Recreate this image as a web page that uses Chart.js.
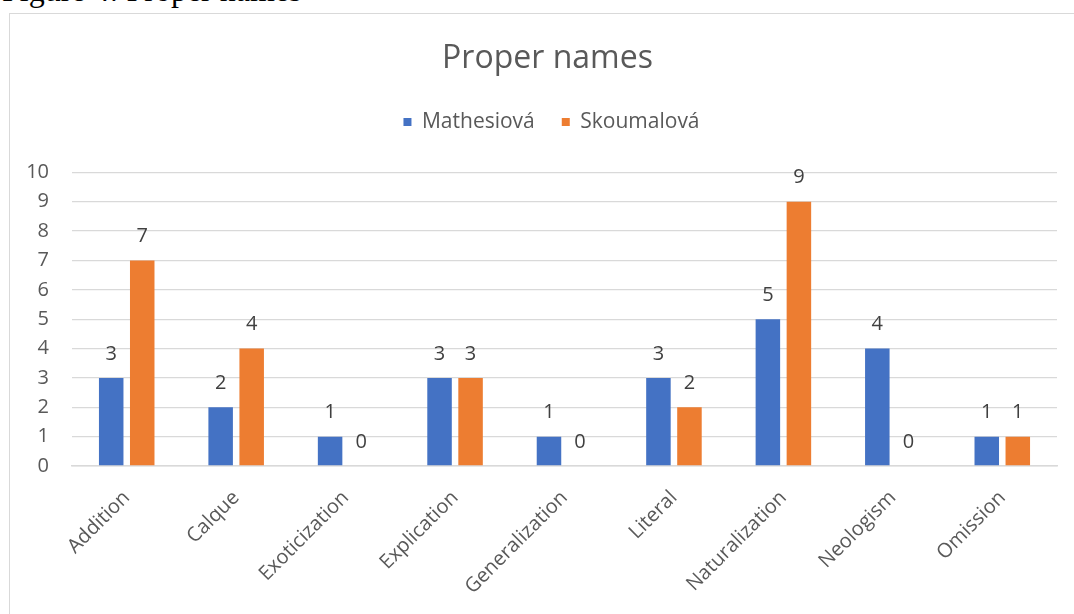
<!DOCTYPE html>
<html>
<head>
<meta charset="utf-8">
<script src="https://cdn.jsdelivr.net/npm/chart.js@4"></script>
<style>
  html, body { margin: 0; padding: 0; background: #ffffff; overflow: hidden; }
  #wrap { position: relative; width: 1074px; height: 614px; overflow: hidden; }
  #caption { position: absolute; left: 2px; top: -26px; font-family: "Liberation Serif", "Times New Roman", serif; font-size: 32px; line-height: 1; color: #000; white-space: nowrap; }
  #frame { position: absolute; left: 9px; top: 13px; width: 2000px; height: 2000px; border-left: 1px solid #d9d9d9; border-top: 1px solid #d9d9d9; }
  #c { position: absolute; left: 0; top: 0; }
</style>
</head>
<body>
<div id="wrap">
  <div id="caption">Figure 4: Proper names</div>
  <div id="frame"></div>
  <canvas id="c" width="1074" height="614"></canvas>
</div>
<script>
const categories = ["Addition", "Calque", "Exoticization", "Explication", "Generalization", "Literal", "Naturalization", "Neologism", "Omission"];
const mathesiova = [3, 2, 1, 3, 1, 3, 5, 4, 1];
const skoumalova = [7, 4, 0, 3, 0, 2, 9, 0, 1];
const yTicks = [0, 1, 2, 3, 4, 5, 6, 7, 8, 9, 10];

const FONT = '"Open Sans", "Noto Sans", sans-serif';

const valueLabels = {
  id: 'valueLabels',
  afterDatasetsDraw(chart) {
    const ctx = chart.ctx;
    ctx.save();
    ctx.font = '20px ' + FONT;
    ctx.fillStyle = '#404040';
    ctx.textAlign = 'center';
    ctx.textBaseline = 'middle';
    chart.data.datasets.forEach((ds, i) => {
      const meta = chart.getDatasetMeta(i);
      meta.data.forEach((bar, j) => {
        ctx.fillText(String(ds.data[j]), bar.x, bar.y - 24);
      });
    });
    ctx.restore();
  }
};

const legendSpacer = {
  id: 'legendSpacer',
  beforeInit(chart) {
    const lg = chart.legend;
    if (!lg) return;
    const orig = lg.fit;
    lg.fit = function () {
      orig.call(this);
      this.height += 30;
    };
  },
  afterLayout(chart) {
    const t = chart.titleBlock;
    if (t) { t.left += 14; t.right += 14; }
    const lg = chart.legend;
    if (lg) { lg.left += 18; lg.right += 18; }
  }
};

new Chart(document.getElementById('c'), {
  type: 'bar',
  data: {
    labels: categories,
    datasets: [
      { label: 'Mathesiová', data: mathesiova, backgroundColor: '#4472C4', categoryPercentage: 0.567, barPercentage: 0.79 },
      { label: 'Skoumalová', data: skoumalova, backgroundColor: '#ED7D31', categoryPercentage: 0.567, barPercentage: 0.79 }
    ]
  },
  options: {
    responsive: false,
    animation: false,
    devicePixelRatio: 1,
    layout: { padding: { left: 10, right: 17, top: 40, bottom: 0 } },
    plugins: {
      title: {
        display: true,
        text: 'Proper names',
        color: '#595959',
        font: { family: FONT, size: 32, weight: 'normal' },
        padding: { top: 0, bottom: 6 }
      },
      legend: {
        display: true,
        position: 'top',
        labels: {
          color: '#595959',
          font: { family: FONT, size: 21 },
          boxWidth: 8,
          boxHeight: 8,
          padding: 27
        }
      },
      tooltip: { enabled: false }
    },
    scales: {
      x: {
        grid: { display: false, drawTicks: false },
        border: { display: true, color: '#d9d9d9', width: 1.5 },
        ticks: {
          color: '#595959',
          font: { family: FONT, size: 20 },
          maxRotation: 45,
          minRotation: 45,
          padding: 20
        },
        afterFit(scale) { scale.height = 148; }
      },
      y: {
        min: 0,
        max: 10,
        afterBuildTicks(scale) { scale.ticks = yTicks.map(v => ({ value: v })); },
        grid: { color: '#d9d9d9', lineWidth: 1.3, drawTicks: false },
        border: { display: false },
        ticks: {
          color: '#595959',
          font: { family: FONT, size: 20 },
          padding: 23
        },
        afterFit(scale) { scale.width = 62; }
      }
    }
  },
  plugins: [valueLabels, legendSpacer]
});
</script>
</body>
</html>
